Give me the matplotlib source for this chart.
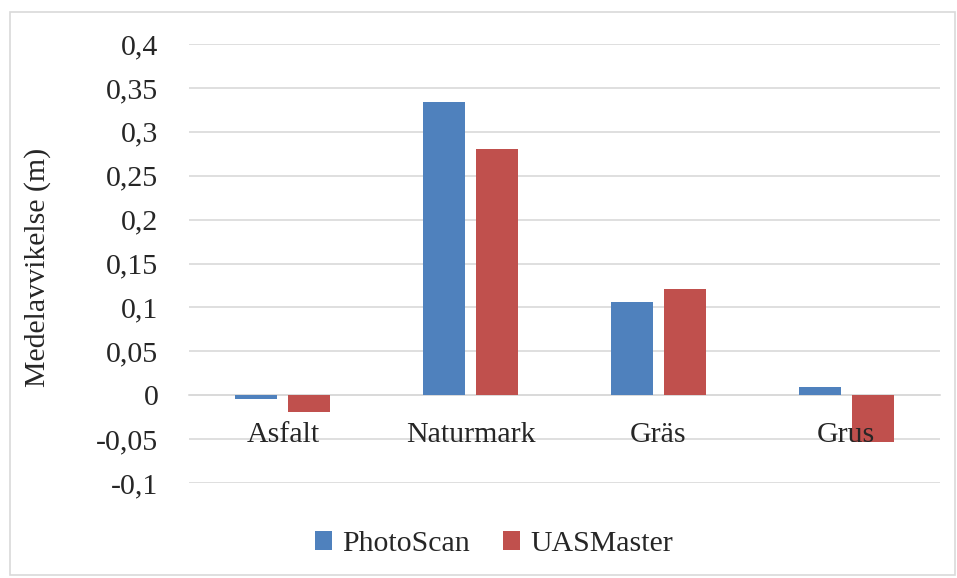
import matplotlib
matplotlib.use("Agg")
import matplotlib.pyplot as plt
import numpy as np
from matplotlib.patches import Rectangle

categories = ["Asfalt", "Naturmark", "Gräs", "Grus"]
photoscan = [-0.004, 0.334, 0.106, 0.009]
uasmaster = [-0.019, 0.280, 0.121, -0.053]
series_names = ["PhotoScan", "UASMaster"]
yticks = [-0.1, -0.05, 0, 0.05, 0.1, 0.15, 0.2, 0.25, 0.3, 0.35, 0.4]

plt.rcParams["font.family"] = ["Liberation Serif", "DejaVu Serif"]
FS = 21.5
TXT = "#262626"

W, H = 957, 578
fig = plt.figure(figsize=(W / 100, H / 100), dpi=100)
fig.patches.append(Rectangle((10 / W, 3 / H), 945 / W, 563 / H, transform=fig.transFigure,
                             fill=False, edgecolor="#d9d9d9", linewidth=1.2))

ax = fig.add_axes([189 / W, 1 - 483 / H, (940 - 189) / W, (483 - 44) / H])
x = np.arange(len(categories))
bw = 0.224
off = 0.141
ax.bar(x - off, photoscan, bw, color="#4F81BD", label=series_names[0], zorder=3)
ax.bar(x + off, uasmaster, bw, color="#C0504D", label=series_names[1], zorder=3)

ax.set_xlim(-0.5, len(categories) - 0.5)
ax.set_ylim(-0.1, 0.4)
ax.set_yticks(yticks)
ax.set_yticklabels([("%g" % v).replace(".", ",") for v in yticks], fontsize=FS, color=TXT)
ax.grid(axis="y", color="#d9d9d9", linewidth=1.2, zorder=0)
ax.tick_params(axis="y", length=0, pad=22)

for s in ["top", "right", "left"]:
    ax.spines[s].set_visible(False)
ax.spines["bottom"].set_position(("data", 0))
ax.spines["bottom"].set_color("#d9d9d9")
ax.spines["bottom"].set_linewidth(1.2)
ax.spines["bottom"].set_zorder(2)
ax.set_xticks(x)
ax.set_xticklabels([])
ax.tick_params(axis="x", length=0)

# category names sit just below the zero line, drawn above the bars
for xi, name in zip(x, categories):
    ax.annotate(name, xy=(xi, 0), xytext=(0, -33.5), textcoords="offset points",
                ha="center", va="baseline", fontsize=FS, color=TXT, zorder=5,
                annotation_clip=False)

fig.text(38 / W, 1 - 267 / H, "Medelavvikelse (m)", rotation=90, fontsize=FS,
         color=TXT, ha="center", va="center")

fig.legend(loc="center", bbox_to_anchor=(494 / W, 1 - 544 / H), ncol=2, frameon=False,
           fontsize=FS, handlelength=0.57, handleheight=0.57, handletextpad=0.35,
           columnspacing=1.1, labelcolor=TXT)

fig.savefig("out.png", dpi=100)
